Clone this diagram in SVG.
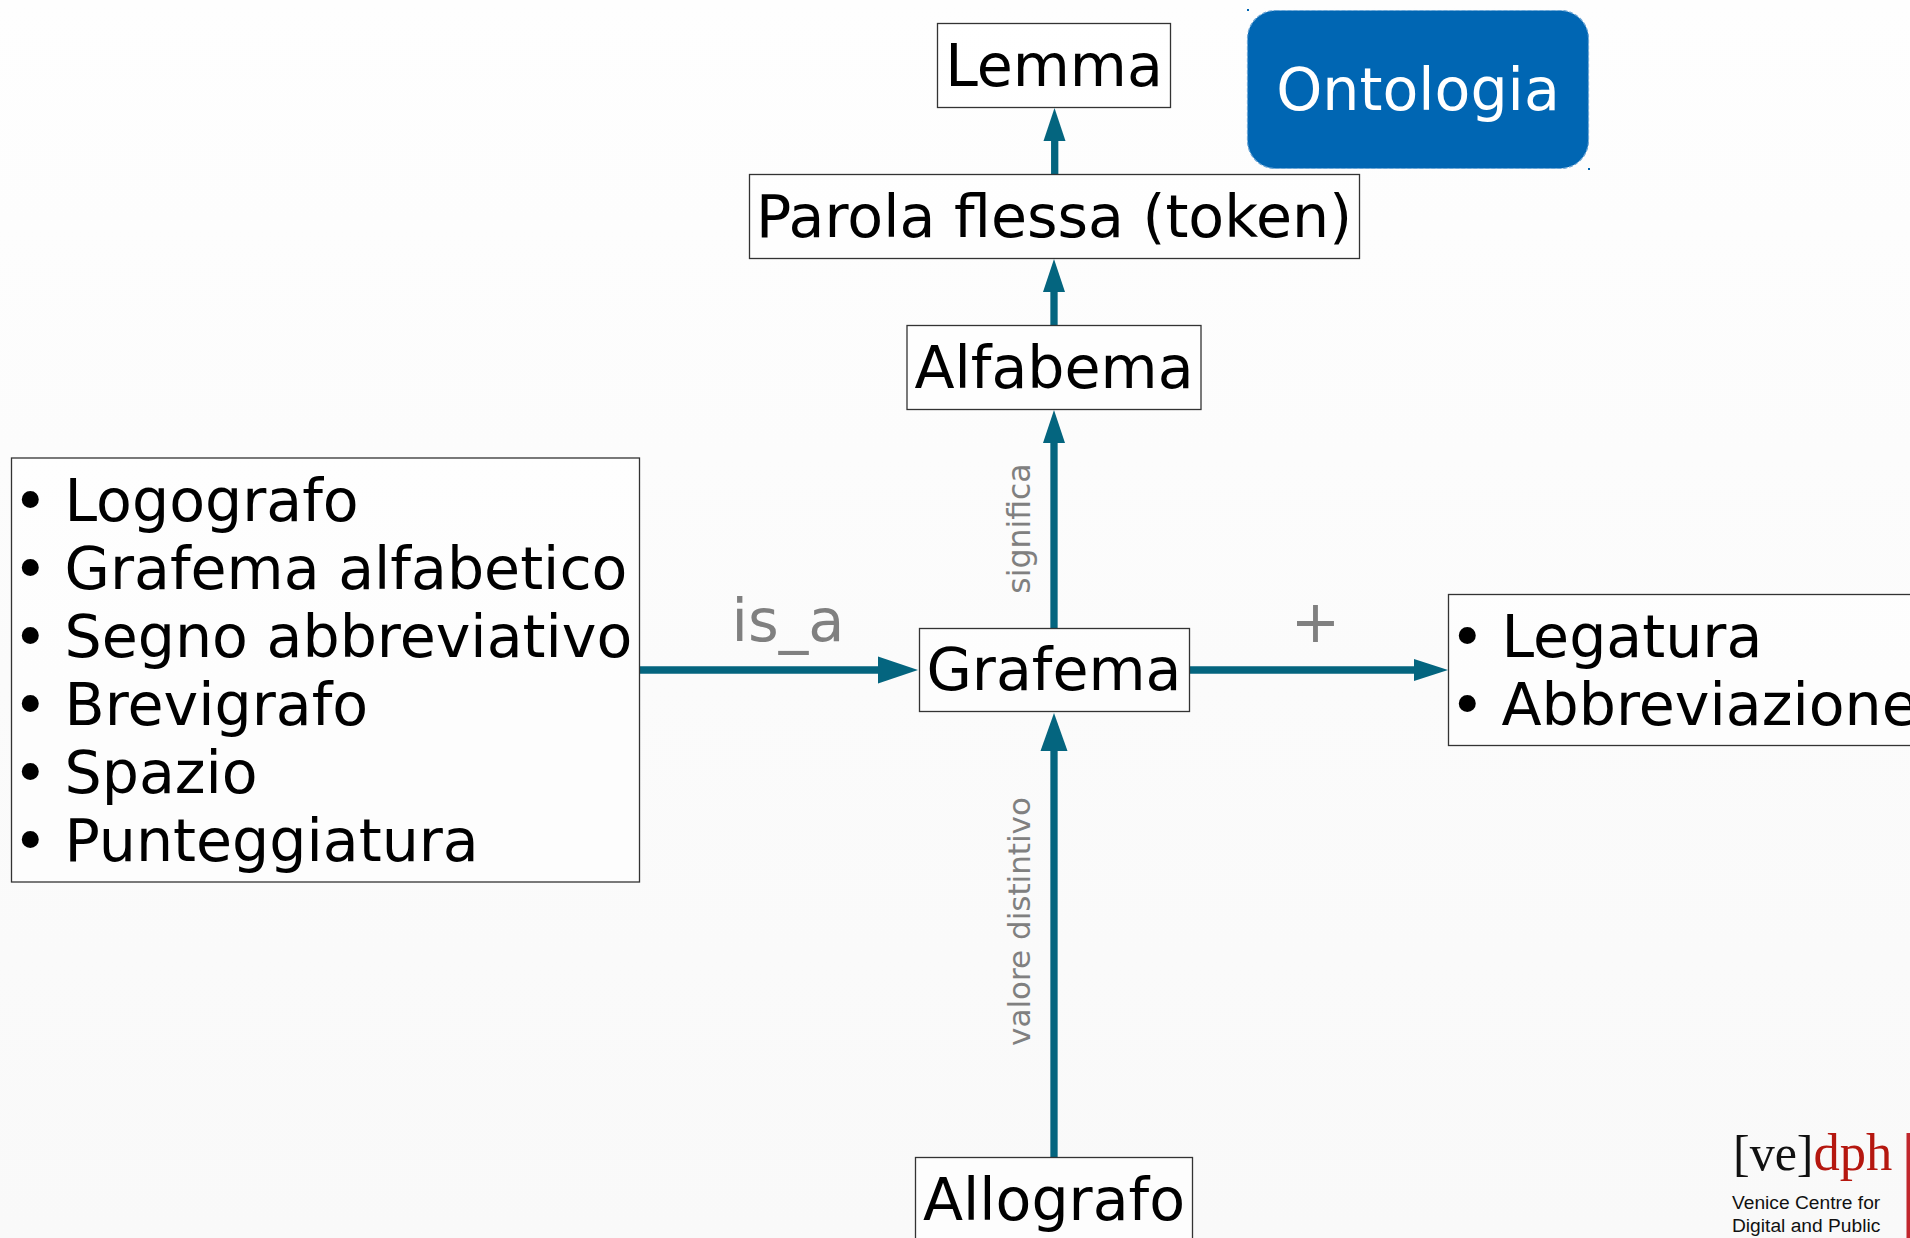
<svg xmlns="http://www.w3.org/2000/svg" width="1910" height="1238" viewBox="0 0 1910 1238">
<style>
text{font-family:"DejaVu Sans",sans-serif}
.box{fill:#fff;fill-opacity:.6;stroke:#333;stroke-width:1.3}
.t{font-size:58.600px;fill:#000}
.m{text-anchor:middle}
.lab{fill:#808080}
.c{stroke:#04657f;stroke-width:7.3;fill:none}
.h{fill:#04657f}
.ls{font-family:"Liberation Sans",sans-serif;font-size:19.200px;fill:#111}
</style>
<defs><linearGradient id="bg" x1="0" y1="0" x2="0" y2="1"><stop offset="0" stop-color="#fefefe"/><stop offset=".55" stop-color="#fbfbfb"/><stop offset="1" stop-color="#f9f9f9"/></linearGradient></defs>
<rect id="background" width="1910" height="1238" fill="url(#bg)"/>
<g id="connectors">
<path class="c" d="M1054.700 174V135"/><polygon class="h" points="1054.500,108 1065.500,141 1043.500,141"/>
<path class="c" d="M1054 325V285"/><polygon class="h" points="1054,259 1065,292 1043,292"/>
<path class="c" d="M1054 628V440"/><polygon class="h" points="1054,410 1065,443 1043,443"/>
<path class="c" d="M1054 1157V745"/><polygon class="h" points="1054,713 1067.500,751 1040.500,751"/>
<path class="c" d="M640 670H885"/><polygon class="h" points="918,670 878,656.500 878,683.500"/>
<path class="c" d="M1189 670H1420"/><polygon class="h" points="1448,670 1414,659 1414,681"/>
<text class="lab m" font-size="59" x="788" y="641">is_a</text>
<text class="lab m" font-size="59" x="1315.500" y="642">+</text>
<text class="lab m" font-size="31.500" transform="translate(1030,528.500) rotate(-90)">significa</text>
<text class="lab m" font-size="31" transform="translate(1030,921.500) rotate(-90)">valore distintivo</text>
</g>
<g id="lemma"><rect class="box" x="937.500" y="23.500" width="233" height="84"/><text class="t m" x="1054" y="86">Lemma</text></g>
<g id="parola"><rect class="box" x="749.500" y="174.500" width="610" height="84"/><text class="t m" x="1054" y="236.500">Parola flessa (token)</text></g>
<g id="alfabema"><rect class="box" x="907" y="325.500" width="294" height="84"/><text class="t m" x="1054" y="387.500">Alfabema</text></g>
<g id="grafema"><rect class="box" x="919.500" y="628.500" width="270" height="83"/><text class="t m" x="1054" y="690">Grafema</text></g>
<g id="allografo"><rect class="box" x="915.500" y="1157.500" width="277" height="84"/><text class="t m" x="1054" y="1219.500">Allografo</text></g>
<g id="ontologia"><rect x="1247.500" y="10.500" width="341" height="158" rx="28" fill="#0066b3" stroke="#6aa5d6" stroke-width="1.200" stroke-dasharray="4 2"/><rect x="1247" y="9" width="2" height="2" fill="#0066b3"/><rect x="1588" y="168" width="2" height="2" fill="#0066b3"/><text class="m" font-size="58.600" fill="#fff" x="1418" y="110">Ontologia</text></g>
<g id="tipi"><rect class="box" x="11.500" y="458" width="628" height="424"/>
<g class="t"><text x="13" y="520.500">•</text><text x="64.500" y="520.500">Logografo</text>
<text x="13" y="588.500">•</text><text x="64.500" y="588.500">Grafema alfabetico</text>
<text x="13" y="656.500">•</text><text x="64.500" y="656.500">Segno abbreviativo</text>
<text x="13" y="724.500">•</text><text x="64.500" y="724.500">Brevigrafo</text>
<text x="13" y="792.500">•</text><text x="64.500" y="792.500">Spazio</text>
<text x="13" y="860.500">•</text><text x="64.500" y="860.500">Punteggiatura</text></g></g>
<g id="composti"><rect class="box" x="1448.500" y="594.500" width="480" height="151"/>
<g class="t"><text x="1450" y="656.500">•</text><text x="1501.500" y="656.500">Legatura</text>
<text x="1450" y="724.500">•</text><text x="1501.500" y="724.500">Abbreviazione</text></g></g>
<g id="logo">
<text x="1733" y="1170" font-size="50" style="font-family:'Liberation Serif',serif" fill="#111">[ve]<tspan fill="#b5170f" font-size="52.500">dph</tspan></text>
<text class="ls" x="1732" y="1209">Venice Centre for</text><text class="ls" x="1732" y="1232">Digital and Public</text>
<rect x="1906.500" y="1133" width="3.500" height="105" fill="#c1272d"/>
</g>
</svg>
